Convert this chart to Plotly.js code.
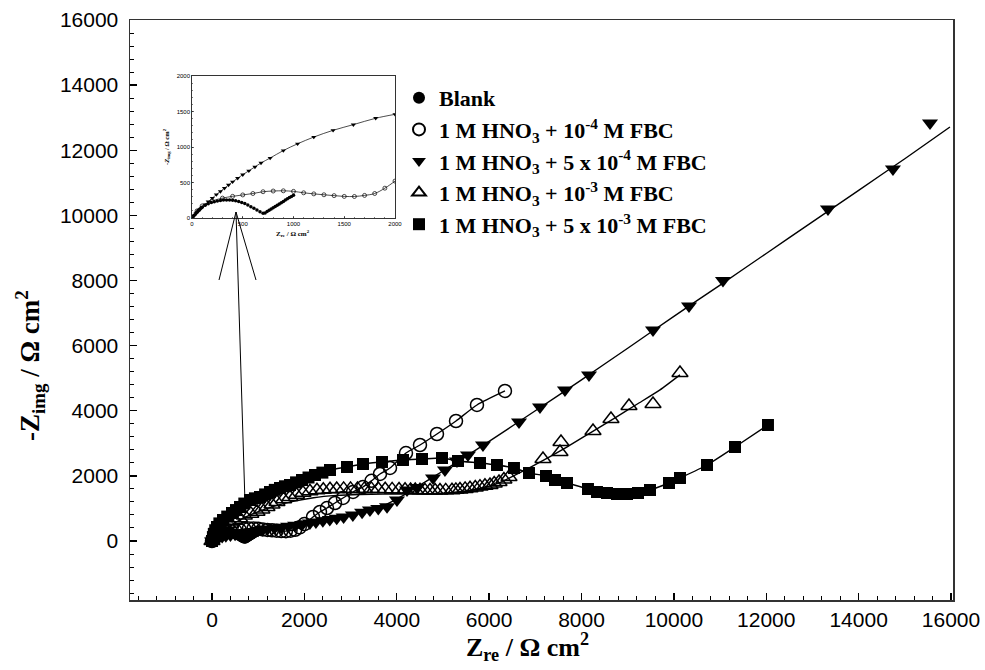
<!DOCTYPE html>
<html>
<head>
<meta charset="utf-8">
<script src="https://cdn.plot.ly/plotly-3.0.1.min.js"></script>
<style>html,body{margin:0;padding:0;background:#fff;}#chart{width:985px;height:670px;}</style>
</head>
<body>
<div id="chart"></div>
<script>
// ---- Data ----
const legendNames = [
  "<b>Blank</b>",
  "<b>1 M HNO<sub>3</sub> + 10<sup>-4</sup> M FBC</b>",
  "<b>1 M HNO<sub>3</sub> + 5 x 10<sup>-4</sup> M FBC</b>",
  "<b>1 M HNO<sub>3</sub> + 10<sup>-3</sup> M FBC</b>",
  "<b>1 M HNO<sub>3</sub> + 5 x 10<sup>-3</sup> M FBC</b>"
];

// Blank
const blankX = [0,20,40,60,80,100,130,160,190,220,250,280,310,340,370,400,430,460,490,520,550,580,610,640,670,700,720,740,760,780,800,820,840,860,880,900,920,940,960,980,1000];
const blankY = [0,40,75,105,130,152,178,200,217,230,240,248,252,254,253,250,244,234,220,203,183,160,136,112,88,68,72,90,108,126,144,162,180,198,216,234,252,270,288,304,320];

// 1e-4 M (open circles)
const c1X = [0,50,100,200,300,400,500,600,700,800,900,1000,1100,1200,1300,1400,1500,1600,1700,1800,1900,2000,2187,2338,2490,2663,2836,3053,3269,3454,3637,3854,4200,4503,4871,5283,5737,6343];
const c1Y = [0,100,170,240,280,305,325,345,370,380,383,375,355,340,327,315,304,303,318,345,420,520,737,891,1013,1167,1321,1505,1658,1850,2058,2242,2702,2948,3286,3685,4177,4607];

// 5e-4 M (filled down triangles)
const c2X = [0,30,60,100,150,220,300,400,500,620,750,880,1000,1100,1200,1350,1500,1650,1800,1950,2120,2250,2400,2550,2700,2850,3050,3250,3420,3600,3790,4005,4222,4438,4785,5044,5304,5542,5867,6647,7101,7642,8162,9548,10327,11063,13336,14743,15545];
const c2Y = [0,25,50,80,110,135,160,185,210,235,260,295,330,350,370,400,420,450,480,510,550,580,620,660,700,740,800,880,950,1000,1050,1260,1566,1640,1935,2180,2457,2641,2948,3654,4115,4637,5098,6480,7217,8000,10196,11424,12837];
const c2FitX = [0,300,700,1200,1700,2200,2700,3200,3700,4200,4600,5000,5500,6000,7000,8000,9000,10000,11000,12000,13000,14000,15000,15977];
const c2FitY = [0,170,250,340,440,560,700,880,1080,1450,1800,2150,2600,3060,4000,4950,5920,6900,7860,8830,9800,10770,11740,12714];

// 1e-3 M (open up triangles)
const c3X = [0,60,150,220,300,400,500,600,700,840,974,1080,1190,1300,1407,1550,1689,1830,1970,2120,2273,2410,2555,2700,2850,3000,3150,3300,3450,3600,3750,3900,4050,4180,4300,4400,4503,4610,4720,4830,4936,5060,5196,5280,5369,5480,5586,5700,5802,5910,6019,6110,6214,6320,6430,7166,7534,7556,8249,8638,9028,9548,10132];
const c3Y = [0,120,250,340,430,530,620,700,780,840,900,970,1044,1120,1198,1280,1351,1420,1480,1525,1560,1575,1590,1595,1600,1600,1600,1600,1600,1595,1590,1585,1580,1575,1570,1565,1560,1555,1550,1550,1550,1555,1560,1570,1580,1600,1620,1645,1670,1695,1720,1765,1812,1890,1965,2518,2733,3040,3378,3746,4146,4207,5159];
const c3FitX = [0,300,700,1200,1700,2200,2700,3200,3700,4200,4700,5200,5700,6200,6700,7200,7700,8200,8700,9200,9700,10132];
const c3FitY = [0,380,720,1000,1200,1330,1400,1430,1440,1440,1450,1490,1580,1780,2120,2500,2900,3330,3760,4200,4640,5100];

// 5e-3 M (filled squares)
const c4X = [0,20,40,70,108,160,238,330,433,520,606,700,823,930,1039,1150,1256,1360,1472,1580,1689,1820,1949,2090,2230,2390,2555,2923,3269,3681,4135,4547,4980,5326,5802,6170,6538,6863,7231,7426,7686,8140,8335,8552,8768,8985,9223,9483,9894,10132,10717,11323,12037];
const c4Y = [0,120,220,330,430,540,645,750,860,950,1044,1150,1259,1310,1351,1430,1505,1570,1628,1680,1720,1800,1873,1950,2027,2100,2180,2273,2365,2426,2488,2518,2549,2457,2395,2334,2242,2088,1996,1873,1781,1597,1505,1474,1443,1443,1474,1566,1781,1935,2334,2887,3562];

// Inset: 5e-4 M curve as drawn in the inset
const i2X = [0,20,40,60,80,100,130,160,200,240,280,320,360,400,450,500,560,620,680,770,900,1040,1200,1390,1590,1810,2000];
const i2Y = [0,30,60,90,120,150,190,230,280,330,375,420,465,510,560,610,665,720,775,845,950,1045,1140,1235,1315,1405,1460];

const xTicks = [0,2000,4000,6000,8000,10000,12000,14000,16000];
const yTicks = [0,2000,4000,6000,8000,10000,12000,14000,16000];
const insetTicks = [0,500,1000,1500,2000];

// ---- Traces ----
const K = '#000';
const mainLine = {color: K, width: 1.4, shape: 'spline', smoothing: 0.6};
function lineTrace(x, y) {
  return {x: x, y: y, mode: 'lines', showlegend: false, hoverinfo: 'skip', line: mainLine};
}
const traces = [
  lineTrace(blankX, blankY),
  lineTrace(c1X, c1Y),
  lineTrace(c2FitX, c2FitY),
  lineTrace(c3FitX, c3FitY),
  lineTrace(c4X, c4Y),
  {x: blankX, y: blankY, name: legendNames[0], mode: 'markers',
   marker: {symbol: 'circle', size: 10, color: K}},
  {x: c1X, y: c1Y, name: legendNames[1], mode: 'markers',
   marker: {symbol: 'circle-open', size: 13, color: K, line: {width: 1.5, color: K}}},
  {x: c2X, y: c2Y, name: legendNames[2], mode: 'markers',
   marker: {symbol: 'triangle-down', size: 14, color: K}},
  {x: c3X, y: c3Y, name: legendNames[3], mode: 'markers',
   marker: {symbol: 'triangle-up-open', size: 14, color: K, line: {width: 1.5, color: K}}},
  {x: c4X, y: c4Y, name: legendNames[4], mode: 'markers',
   marker: {symbol: 'square', size: 12, color: K}},
  // inset
  {x: blankX, y: blankY, xaxis: 'x2', yaxis: 'y2', mode: 'markers', showlegend: false,
   marker: {symbol: 'circle', size: 3.5, color: K}},
  {x: c1X, y: c1Y, xaxis: 'x2', yaxis: 'y2', mode: 'lines+markers', showlegend: false,
   line: {color: K, width: 0.7, shape: 'spline'}, marker: {symbol: 'circle-open', size: 4, color: K, line: {width: 0.7, color: K}}},
  {x: i2X, y: i2Y, xaxis: 'x2', yaxis: 'y2', mode: 'lines+markers', showlegend: false,
   line: {color: K, width: 0.7, shape: 'spline'}, marker: {symbol: 'triangle-down', size: 4.5, color: K}}
];

// ---- Layout ----
const L = 130, R = 953, T = 20, B = 600;
const W = R - L, H = B - T;
function px2paperX(p) { return (p - L) / W; }
function px2paperY(p) { return 1 - (p - T) / H; }

const tickFont = {family: 'Liberation Sans, Arial, sans-serif', size: 21, color: K};
const insetFont = {family: 'Liberation Sans, Arial, sans-serif', size: 6, color: K};
const titleFont = {family: 'Liberation Serif, Times New Roman, serif', size: 27, color: K};

const layout = {
  width: 985, height: 670,
  margin: {l: L, r: 985 - R, t: T, b: 670 - B, pad: 0},
  paper_bgcolor: '#fff', plot_bgcolor: '#fff',
  showlegend: true,
  legend: {
    x: px2paperX(399), y: px2paperY(77), xanchor: 'left', yanchor: 'top',
    bgcolor: 'rgba(0,0,0,0)', borderwidth: 0,
    font: {family: 'Liberation Serif, Times New Roman, serif', size: 22, color: K},
    tracegroupgap: 0, itemsizing: 'constant', traceorder: 'normal'
  },
  xaxis: {
    range: [-1775, 16043], tickvals: xTicks, ticktext: xTicks.map(String),
    ticks: 'inside', ticklen: 7, tickwidth: 1.3, tickcolor: K,
    minor: {dtick: 400, tick0: 0, ticks: 'inside', ticklen: 4, tickwidth: 1, tickcolor: K, showgrid: false},
    showline: true, linecolor: '#333', linewidth: 1.5, mirror: true,
    showgrid: false, zeroline: false, tickfont: tickFont, domain: [0, 1]
  },
  yaxis: {
    range: [-1812, 16000], tickvals: yTicks, ticktext: yTicks.map(String),
    ticks: 'inside', ticklen: 7, tickwidth: 1.3, tickcolor: K,
    minor: {dtick: 400, tick0: 0, ticks: 'inside', ticklen: 4, tickwidth: 1, tickcolor: K, showgrid: false},
    showline: true, linecolor: '#333', linewidth: 1.5, mirror: true,
    showgrid: false, zeroline: false, tickfont: tickFont, domain: [0, 1],
    ticklabelstandoff: 6
  },
  xaxis2: {
    anchor: 'y2', domain: [px2paperX(192), px2paperX(395)], range: [0, 2000],
    tickvals: insetTicks, ticks: 'inside', ticklen: 2, tickwidth: 0.6, tickcolor: K,
    minor: {dtick: 100, ticks: 'inside', ticklen: 1, tickwidth: 0.5, tickcolor: K},
    showline: true, linecolor: K, linewidth: 0.8, mirror: true,
    showgrid: false, zeroline: false, tickfont: insetFont
  },
  yaxis2: {
    anchor: 'x2', domain: [px2paperY(218), px2paperY(76)], range: [0, 2000],
    tickvals: insetTicks, ticks: 'inside', ticklen: 2, tickwidth: 0.6, tickcolor: K,
    minor: {dtick: 100, ticks: 'inside', ticklen: 1, tickwidth: 0.5, tickcolor: K},
    showline: true, linecolor: K, linewidth: 0.8, mirror: true,
    showgrid: false, zeroline: false, tickfont: insetFont
  },
  annotations: [
    {xref: 'paper', yref: 'paper', x: px2paperX(30), y: px2paperY(366), textangle: -90,
     text: '<b>-Z<sub>img</sub> / Ω cm<sup>2</sup></b>', showarrow: false, font: titleFont,
     xanchor: 'center', yanchor: 'middle'},
    {xref: 'paper', yref: 'paper', x: px2paperX(527), y: px2paperY(647),
     text: '<b>Z<sub>re</sub> / Ω cm<sup>2</sup></b>', showarrow: false,
     font: {family: 'Liberation Serif, Times New Roman, serif', size: 26, color: K},
     xanchor: 'center', yanchor: 'middle'},
    {xref: 'paper', yref: 'paper', x: px2paperX(166), y: px2paperY(147), textangle: -90,
     text: '<b><i>-Z</i><sub>img</sub> / Ω cm<sup>2</sup></b>', showarrow: false,
     font: {family: 'Liberation Serif, Times New Roman, serif', size: 6.5, color: K},
     xanchor: 'center', yanchor: 'middle'},
    {xref: 'paper', yref: 'paper', x: px2paperX(293), y: px2paperY(234),
     text: '<b>Z<sub>re</sub> / Ω cm<sup>2</sup></b>', showarrow: false,
     font: {family: 'Liberation Serif, Times New Roman, serif', size: 7, color: K},
     xanchor: 'center', yanchor: 'middle'}
  ],
  shapes: [
    {type: 'line', xref: 'paper', yref: 'paper', x0: px2paperX(245), y0: px2paperY(503), x1: px2paperX(236), y1: px2paperY(212), line: {color: K, width: 1}},
    {type: 'line', xref: 'paper', yref: 'paper', x0: px2paperX(219), y0: px2paperY(280), x1: px2paperX(236), y1: px2paperY(212), line: {color: K, width: 1}},
    {type: 'line', xref: 'paper', yref: 'paper', x0: px2paperX(256), y0: px2paperY(280), x1: px2paperX(236), y1: px2paperY(212), line: {color: K, width: 1}}
  ]
};

Plotly.newPlot('chart', traces, layout, {displayModeBar: false, staticPlot: true});
</script>
</body>
</html>
